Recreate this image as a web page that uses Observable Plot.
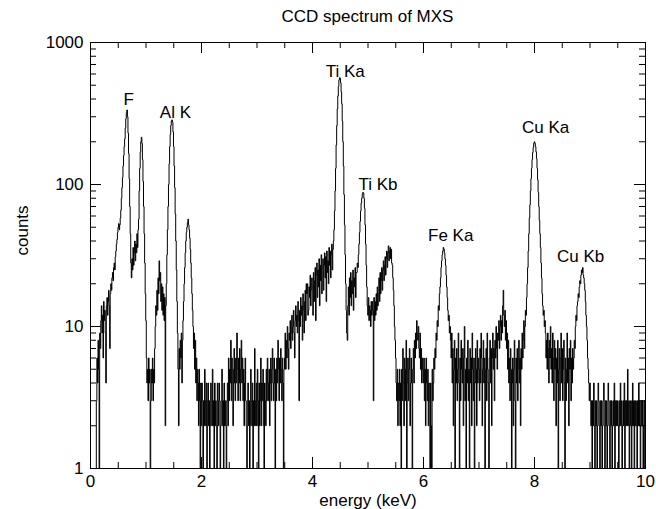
<!DOCTYPE html>
<html><head><meta charset="utf-8">
<script src="https://cdn.jsdelivr.net/npm/d3@7"></script>
<script src="https://cdn.jsdelivr.net/npm/@observablehq/plot@0.6"></script>
<style>
body{margin:0;background:#fff;font-family:"Liberation Sans",Arial,Helvetica,sans-serif;}
#title{height:30px;box-sizing:border-box;padding:8px 11px 0 90px;text-align:center;font-size:17px;line-height:17px;color:#000;}
</style></head><body>
<div id="title">CCD spectrum of MXS</div>
<div id="chart"></div>
<script>
// Spectrum: counts per 0.01 keV channel, first channel at 0.10 keV
const channelStart = 0.10;
const channelWidth = 0.01;
const counts_0_1 = [1,3,6,4,8,5,1,9,7,11, 14,9,12,6,15,11,13,9,4,14, 16,12,15,18,14,7,17,20,18,22, 24,21,26,28,25,31,34,38,41,46];
const counts_0_5 = [50,53,48,52,58,66,80,95,112,135, 160,185,210,250,290,320,335,300,230,165, 110,70,45,28,22,30,25,36,27,33, 40,29,38,33,45,36,48,57,90,130, 170,200,215,195,150,105,70,45,28,17];
const counts_1_0 = [11,6,4,5,3,6,4,5,1,3, 5,4,6,3,5,4,7,10,14,12, 18,13,22,17,29,21,24,15,20,13, 19,12,17,11,16,2,14,20,32,48, 70,100,140,185,225,260,280,285,275,235];
const counts_1_5 = [185,135,95,62,40,25,15,9,5,2, 7,5,8,6,9,4,8,11,15,20, 26,33,40,46,50,54,57,52,48,42, 35,28,22,17,13,10,7,9,5,8, 4,6,3,5,4,2,5,3,1,4];
const counts_2_0 = [2,4,3,1,3,2,5,3,2,4, 1,3,4,2,3,1,2,4,3,2, 5,2,3,1,4,2,3,2,1,4, 3,2,4,3,1,2,3,5,2,3, 1,4,2,3,2,1,3,4,2,6];
const counts_2_5 = [3,5,4,8,3,6,4,2,5,7, 4,3,6,4,9,5,3,6,4,7, 3,5,8,4,6,3,5,2,4,6, 3,2,1,3,4,2,3,1,2,5, 3,2,4,1,3,2,7,3,2,4];
const counts_3_0 = [2,5,3,1,4,2,3,6,2,4, 3,5,2,1,4,3,2,5,3,6, 4,3,5,2,4,6,3,5,7,4, 3,6,4,1,5,3,6,4,8,5, 3,6,4,7,5,3,6,4,1,5];
const counts_3_5 = [6,9,5,8,6,10,7,5,9,8, 11,7,9,12,8,10,13,9,6,11, 14,10,12,9,15,11,3,13,10,16, 12,14,8,17,13,9,15,18,11,20, 17,20,12,13,19,16,23,14,18,22];
const counts_4_0 = [19,12,24,15,21,26,11,23,28,16, 25,19,30,14,27,21,32,17,26,30, 18,27,33,22,31,15,34,24,29,20, 36,27,34,22,32,38,25,35,40,48, 65,90,130,190,260,340,420,490,545,565];
const counts_4_5 = [560,520,450,370,280,200,135,85,52,32, 20,13,9,8,14,19,12,22,16,24, 14,21,17,25,13,22,19,26,16,24, 24,28,26,32,38,46,55,65,74,80, 85,88,87,80,68,52,38,27,19,14];
const counts_5_0 = [12,16,11,14,13,10,15,12,15,13, 3,16,11,15,12,17,13,19,14,17, 22,15,24,17,21,26,18,25,29,21, 27,31,23,30,34,26,33,37,29,34, 36,30,35,28,27,22,18,14,10,8];
const counts_5_5 = [6,4,3,5,2,4,3,5,2,4, 1,5,3,7,4,2,6,3,5,8, 1,4,6,3,5,7,2,4,6,4, 1,5,7,4,8,6,9,7,11,9, 8,10,7,6,9,5,7,4,6,5];
const counts_6_0 = [4,6,3,5,2,6,4,3,5,2, 4,3,1,4,2,1,5,3,4,6, 5,7,6,9,8,11,10,14,13,17, 19,22,26,29,32,34,36,35,33,30, 27,23,19,16,13,11,12,9,10,8];
const counts_6_5 = [6,9,4,7,2,5,8,1,6,4, 7,3,5,9,4,1,6,3,8,5, 4,7,2,6,10,3,5,1,6,4, 8,3,5,1,7,4,6,2,9,5, 3,6,1,4,7,5,2,8,4,6];
const counts_7_0 = [5,3,7,4,9,6,2,5,8,4, 6,1,5,7,3,9,5,4,1,6, 8,4,7,2,6,9,5,7,3,8, 6,10,7,5,9,8,11,7,10,12, 8,11,9,14,18,12,10,13,8,11];
const counts_7_5 = [7,9,5,8,4,6,3,7,5,1, 4,6,2,5,8,3,1,6,4,7, 3,5,8,4,6,2,7,5,9,6, 8,11,7,10,13,12,16,20,26,34, 45,58,72,90,110,130,150,168,182,195];
const counts_8_0 = [200,195,185,170,152,130,108,88,70,56, 45,36,28,22,17,14,12,13,10,11, 9,6,8,5,9,7,4,8,6,10, 5,7,4,9,6,3,8,5,7,2, 6,4,8,1,5,7,3,6,9,4];
const counts_8_5 = [7,3,5,8,4,1,6,3,5,9, 4,6,2,7,5,8,3,6,4,7, 5,6,8,7,10,12,11,14,15,17, 16,19,21,20,23,25,24,26,23,22, 20,18,15,12,10,8,6,5,4,3];
const counts_9_0 = [4,3,2,3,1,3,2,4,2,1, 3,2,3,1,2,4,3,2,1,3, 2,3,1,2,3,4,2,1,3,2, 3,1,2,4,3,2,1,3,2,3, 1,2,3,2,4,1,3,2,3,2];
const counts_9_5 = [3,2,1,3,2,4,2,3,1,2, 3,2,4,1,3,2,3,2,5,3, 2,1,3,2,3,1,2,4,2,3, 1,3,2,3,2,1,3,2,4,2, 3,1,2,3,2,3,1,2,3,1];

// Axis ticks
const xMajorTicks = [0,2,4,6,8,10];
const xMinorTicks = [0.5,1,1.5,2.5,3,3.5,4.5,5,5.5,6.5,7,7.5,8.5,9,9.5];
const yMajorTicks = [1,10,100,1000];
const yMinorTicks = [2,3,4,5,6,7,8,9,20,30,40,50,60,70,80,90,200,300,400,500,600,700,800,900];

// Line annotations
const peakNames = ["F","Al K","Ti Ka","Ti Kb","Fe Ka","Cu Ka","Cu Kb"];
const peakLabelEnergy = [0.69,1.53,4.59,5.18,6.49,8.2,8.83];
const peakLabelCounts = [395,320,623,100,44,251,31];

const counts = [].concat(counts_0_1,counts_0_5,counts_1_0,counts_1_5,counts_2_0,counts_2_5,
  counts_3_0,counts_3_5,counts_4_0,counts_4_5,counts_5_0,counts_5_5,counts_6_0,counts_6_5,
  counts_7_0,counts_7_5,counts_8_0,counts_8_5,counts_9_0,counts_9_5);
const spectrum = counts.map((c, i) => ({energy: channelStart + i * channelWidth, counts: c}));
const peaks = peakNames.map((n, i) => ({name: n, energy: peakLabelEnergy[i], counts: peakLabelCounts[i]}));

const W = 656, H = 479, mL = 90, mR = 11, mT = 12, mB = 41;
const fw = W - mL - mR, fh = H - mT - mB;
const majorLen = 11, minorLen = 6;

const chart = Plot.plot({
  width: W, height: H,
  marginLeft: mL, marginRight: mR, marginTop: mT, marginBottom: mB,
  style: {fontFamily: '"Liberation Sans", Arial, Helvetica, sans-serif', fontSize: "17px", color: "#000", background: "#fff", overflow: "visible"},
  x: {domain: [0, 10]},
  y: {type: "log", domain: [1, 1000]},
  marks: [
    Plot.lineY(spectrum, {x: "energy", y: "counts", curve: "step", stroke: "#000", strokeWidth: 1}),
    Plot.frame({stroke: "#000", strokeWidth: 1}),
    // inward ticks on all four sides
    Plot.tickX(xMajorTicks, {x: d => d, insetTop: fh - majorLen, stroke: "#000"}),
    Plot.tickX(xMajorTicks, {x: d => d, insetBottom: fh - majorLen, stroke: "#000"}),
    Plot.tickX(xMinorTicks, {x: d => d, insetTop: fh - minorLen, stroke: "#000"}),
    Plot.tickX(xMinorTicks, {x: d => d, insetBottom: fh - minorLen, stroke: "#000"}),
    Plot.tickY(yMajorTicks, {y: d => d, insetRight: fw - majorLen, stroke: "#000"}),
    Plot.tickY(yMajorTicks, {y: d => d, insetLeft: fw - majorLen, stroke: "#000"}),
    Plot.tickY(yMinorTicks, {y: d => d, insetRight: fw - minorLen, stroke: "#000"}),
    Plot.tickY(yMinorTicks, {y: d => d, insetLeft: fw - minorLen, stroke: "#000"}),
    Plot.axisX(xMajorTicks, {tickSize: 0, tickPadding: 6, label: null, fill: "#000"}),
    Plot.axisY(yMajorTicks, {tickSize: 0, tickPadding: 7, label: null, tickFormat: d => String(d), fill: "#000"}),
    Plot.text(["energy (keV)"], {frameAnchor: "bottom", dy: 37, text: d => d, fill: "#000"}),
    Plot.text(["counts"], {frameAnchor: "left", dx: -68, rotate: -90, text: d => d, fill: "#000"}),
    Plot.text(peaks, {x: "energy", y: "counts", text: "name", fill: "#000"})
  ]
});
document.getElementById("chart").appendChild(chart);
</script>
</body></html>
